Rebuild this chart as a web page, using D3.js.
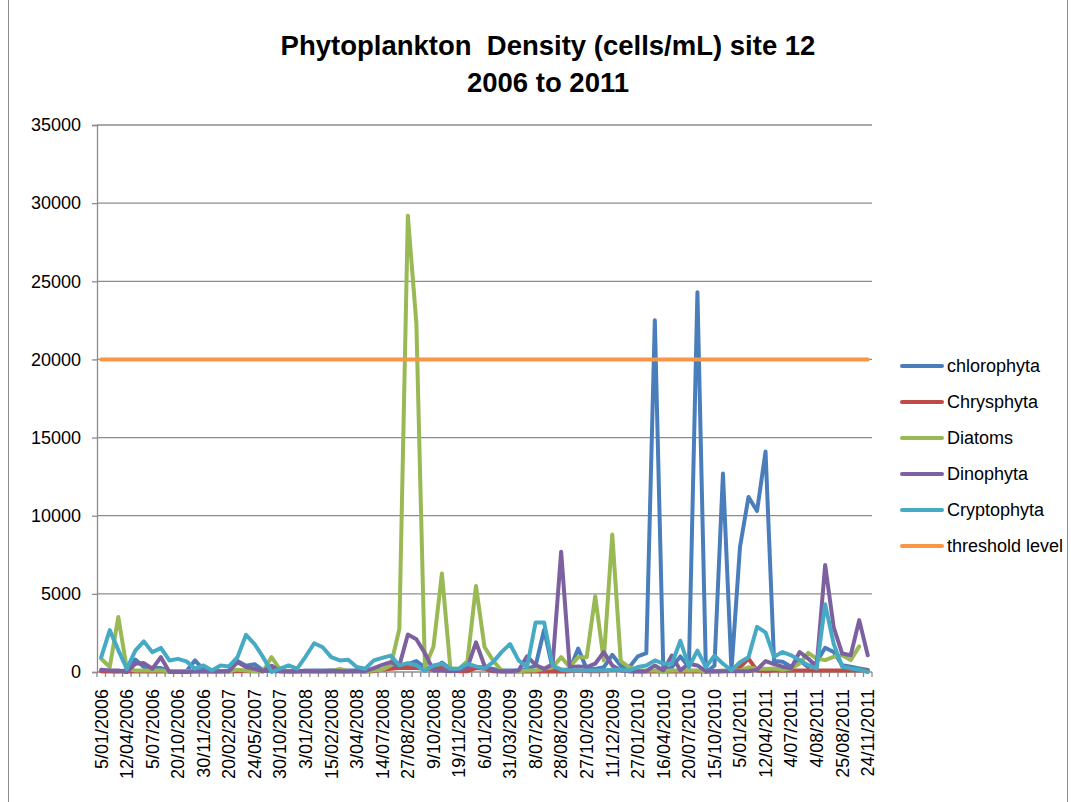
<!DOCTYPE html>
<html>
<head>
<meta charset="utf-8">
<script src="https://cdn.jsdelivr.net/npm/d3@7"></script>
<style>
  html, body { margin: 0; padding: 0; background: #fff; }
  svg { display: block; font-family: "Liberation Sans", Arial, sans-serif; }
</style>
</head>
<body>
<svg id="chart" width="1071" height="802"></svg>
<script>
// ---- data ----
const tickLabels = ["5/01/2006","12/04/2006","5/07/2006","20/10/2006","30/11/2006","20/02/2007","24/05/2007","30/10/2007","3/01/2008","15/02/2008","3/04/2008","14/07/2008","27/08/2008","9/10/2008","19/11/2008","6/01/2009","31/03/2009","8/07/2009","28/08/2009","27/10/2009","11/12/2009","27/01/2010","16/04/2010","20/07/2010","15/10/2010","5/01/2011","12/04/2011","4/07/2011","4/08/2011","25/08/2011","24/11/2011"];
const labelEvery = 3;

const chlorophyta = [50,50,50,100,800,320,250,250,50,50,50,740,150,50,50,100,700,400,500,100,50,50,50,50,80,100,100,100,100,100,100,100,100,150,250,400,500,700,300,200,600,200,100,200,300,300,200,100,100,100,200,400,2700,200,150,150,1500,200,200,300,1100,400,300,1000,1200,22500,100,300,1000,300,24300,0,400,12700,100,8000,11200,10300,14100,700,650,340,750,300,650,1550,1280,440,340,230,130];
const chrysphyta = [50,50,30,30,30,30,30,30,30,30,30,30,30,30,30,30,50,50,50,50,200,50,30,30,30,30,30,30,30,30,30,30,50,150,200,250,250,250,200,150,300,100,50,50,250,200,50,30,30,30,30,30,30,30,30,50,100,50,50,50,150,150,50,30,30,30,30,30,30,30,30,30,30,50,100,300,850,100,50,100,100,100,100,100,100,100,100,100,100,100,100];
const diatoms = [850,320,3520,200,100,100,100,100,50,50,50,50,50,50,50,50,150,100,50,50,950,150,50,50,50,50,50,50,200,50,50,50,100,150,420,2750,29200,22300,300,1600,6300,200,200,700,5500,1600,740,100,50,50,100,100,200,300,950,320,950,950,4850,740,8800,700,300,100,100,100,50,100,100,100,100,50,50,100,100,100,300,200,200,230,150,230,550,1220,860,760,970,1070,760,1640,null];
const dinophyta = [150,100,100,0,530,570,210,950,0,0,0,50,50,50,50,50,630,320,210,50,400,50,50,50,80,50,50,80,50,50,80,50,250,450,630,400,2400,2100,1200,100,100,50,100,300,1900,400,100,50,50,100,1000,450,200,500,7700,320,360,320,530,1270,420,100,50,50,50,420,100,1050,100,530,420,50,50,50,50,50,50,150,700,500,340,230,1280,860,340,6850,2860,1180,1070,3320,1070];
const cryptophyta = [950,2680,1400,200,1370,1960,1270,1540,740,840,680,210,420,100,420,360,950,2380,1790,950,0,210,420,210,990,1840,1580,950,740,780,320,210,740,900,1050,420,570,420,60,420,530,210,210,530,360,210,630,1270,1790,740,320,3170,3170,420,150,100,100,100,100,100,150,150,100,320,420,740,530,530,2000,320,1370,320,1050,530,100,630,950,2890,2530,970,1280,1070,760,440,230,4330,1800,340,230,150,0];
const thresholdValue = 20000;

const seriesNames = ["chlorophyta","Chrysphyta","Diatoms","Dinophyta","Cryptophyta","threshold level"];
const seriesColors = ["#4A7EBB","#BE4B48","#98B954","#7D60A0","#46AAC5","#F79646"];
const yTicks = [0,5000,10000,15000,20000,25000,30000,35000];
const titleLines = ["Phytoplankton  Density (cells/mL) site 12","2006 to 2011"];

// ---- layout ----
const svg = d3.select("#chart");
const W = 1071, H = 802;
const plot = {left: 97, right: 872, top: 125, bottom: 672};
const n = chlorophyta.length;
const threshold = d3.range(n).map(() => thresholdValue);
const allSeries = [chlorophyta, chrysphyta, diatoms, dinophyta, cryptophyta, threshold];

// chart area border
svg.append("rect")
  .attr("x", 8.5).attr("y", -2).attr("width", 1059).attr("height", H + 4)
  .attr("fill", "#fff").attr("stroke", "#8c8c8c").attr("stroke-width", 1);

const x = d3.scaleBand().domain(d3.range(n)).range([plot.left, plot.right]).padding(0);
const cx = i => x(i) + x.bandwidth() / 2;
const y = d3.scaleLinear().domain([0, 35000]).range([plot.bottom, plot.top]);

// gridlines
svg.append("g")
  .selectAll("line").data(yTicks.filter(d => d > 0)).join("line")
  .attr("x1", plot.left).attr("x2", plot.right)
  .attr("y1", d => y(d)).attr("y2", d => y(d))
  .attr("stroke", "#8c8c8c").attr("stroke-width", 1.3);

// y axis
const yAxis = svg.append("g").attr("transform", `translate(${plot.left},0)`)
  .call(d3.axisLeft(y).tickValues(yTicks).tickFormat(d3.format("d")).tickSize(5).tickPadding(11));
yAxis.select(".domain").attr("stroke", "#8c8c8c").attr("stroke-width", 1.3);
yAxis.selectAll(".tick line").attr("stroke", "#8c8c8c").attr("stroke-width", 1.3);
yAxis.selectAll(".tick text").attr("font-size", 18).attr("fill", "#000")
  .attr("font-family", "Liberation Sans, Arial, sans-serif");

// x axis: category boundaries as ticks
const bounds = d3.range(n + 1).map(i => plot.left + i * x.bandwidth());
const xg = svg.append("g");
xg.append("line").attr("x1", plot.left).attr("x2", plot.right)
  .attr("y1", plot.bottom).attr("y2", plot.bottom)
  .attr("stroke", "#8c8c8c").attr("stroke-width", 1.3);
xg.selectAll("line.tk").data(bounds).join("line").attr("class", "tk")
  .attr("x1", d => d).attr("x2", d => d)
  .attr("y1", plot.bottom).attr("y2", plot.bottom + 5)
  .attr("stroke", "#8c8c8c").attr("stroke-width", 1.3);
xg.selectAll("text").data(tickLabels).join("text")
  .attr("transform", (d, k) => `translate(${cx(k * labelEvery)},689) rotate(-90)`)
  .attr("text-anchor", "end").attr("dy", "0.35em")
  .attr("font-size", 18).attr("fill", "#000")
  .text(d => d);

// lines
const line = d3.line()
  .defined(d => d != null)
  .x((d, i) => cx(i))
  .y(d => y(d));
svg.append("g").selectAll("path").data(allSeries).join("path")
  .attr("d", d => line(d))
  .attr("fill", "none")
  .attr("stroke", (d, k) => seriesColors[k])
  .attr("stroke-width", 4)
  .attr("stroke-linejoin", "round")
  .attr("stroke-linecap", "round");

// title
svg.append("g").selectAll("text").data(titleLines).join("text")
  .attr("x", 548).attr("y", (d, k) => 55 + k * 37)
  .attr("text-anchor", "middle").attr("font-size", 27.5).attr("font-weight", "bold")
  .style("white-space", "pre")
  .attr("fill", "#000").text(d => d);

// legend
const lg = svg.append("g").selectAll("g").data(seriesNames).join("g")
  .attr("transform", (d, k) => `translate(902,${366 + k * 36})`);
lg.append("line").attr("x1", 0).attr("x2", 40).attr("y1", 0).attr("y2", 0)
  .attr("stroke", (d, k) => seriesColors[k]).attr("stroke-width", 4).attr("stroke-linecap", "round");
lg.append("text").attr("x", 45).attr("dy", "0.35em").attr("font-size", 18).attr("fill", "#000")
  .text(d => d);
</script>
</body>
</html>
